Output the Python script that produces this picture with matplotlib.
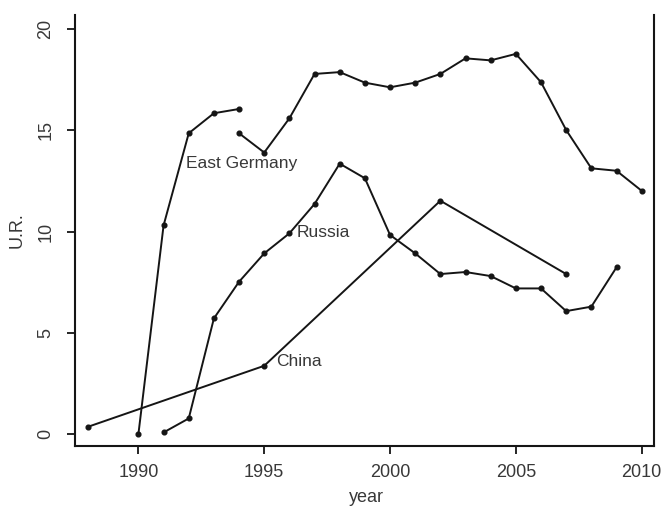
import matplotlib
matplotlib.use("Agg")
import matplotlib.pyplot as plt

plt.rcParams['font.family'] = ['Liberation Sans', 'DejaVu Sans']

# East Germany, first definition
eg1_years = [1990, 1991, 1992, 1993, 1994]
eg1_values = [0.0, 10.3, 14.85, 15.84, 16.05]

# East Germany, second definition
eg2_years = [1994, 1995, 1996, 1997, 1998, 1999, 2000, 2001, 2002, 2003, 2004,
             2005, 2006, 2007, 2008, 2009, 2010]
eg2_values = [14.85, 13.9, 15.59, 17.78, 17.87, 17.35, 17.12, 17.35, 17.78, 18.55,
              18.45, 18.77, 17.37, 15.01, 13.12, 13.0, 12.01]

# Russia
ru_years = [1991, 1992, 1993, 1994, 1995, 1996, 1997, 1998, 1999, 2000, 2001,
            2002, 2003, 2004, 2005, 2006, 2007, 2008, 2009]
ru_values = [0.08, 0.77, 5.71, 7.52, 8.92, 9.91, 11.36, 13.35, 12.63, 9.83, 8.92,
             7.9, 8.0, 7.8, 7.19, 7.19, 6.07, 6.29, 8.23]

# China
cn_years = [1988, 1995, 2002, 2007]
cn_values = [0.36, 3.37, 11.52, 7.9]

labels = ["East Germany", "Russia", "China"]
label_pos = [(1991.89, 13.38), (1996.3, 9.93), (1995.47, 3.56)]

x_ticks = [1990, 1995, 2000, 2005, 2010]
y_ticks = [0, 5, 10, 15, 20]

fig = plt.figure(figsize=(6.67, 5.08), dpi=100)
ax = fig.add_axes([75/667, 1-446/508, (654-75)/667, (446-15)/508])

line_kw = dict(color='#151515', lw=1.4, marker='o', ms=3.4, mfc='#151515', mec='#151515')
for xs, ys in [(eg1_years, eg1_values), (eg2_years, eg2_values),
               (ru_years, ru_values), (cn_years, cn_values)]:
    ax.plot(xs, ys, **line_kw)

txt_color = '#383838'
fs = 13
for lab, (lx, ly) in zip(labels, label_pos):
    ax.text(lx, ly, lab, ha='left', va='center', fontsize=fs - 0.5, color=txt_color)

ax.set_xlim(1987.48, 2010.49)
ax.set_ylim(-0.59, 20.69)
ax.set_xticks(x_ticks)
ax.set_yticks(y_ticks)
ax.set_xticklabels([str(v) for v in x_ticks], fontsize=fs, color=txt_color)
ax.set_yticklabels([str(v) for v in y_ticks], fontsize=fs, color=txt_color,
                   rotation=90, va='center')
ax.tick_params(direction='out', length=6, width=1.3, color='#151515', pad=7)
ax.tick_params(axis='y', pad=9)
ax.spines['top'].set_visible(False)
for s in ['left', 'bottom', 'right']:
    ax.spines[s].set_linewidth(1.5)
    ax.spines[s].set_color('#151515')

fig.text(366/667, 1-497/508, "year", ha='center', va='center', fontsize=fs, color=txt_color)
fig.text(17/667, 1-230/508, "U.R.", ha='center', va='center', fontsize=fs, color=txt_color,
         rotation=90)

fig.savefig("out.png", dpi=100)
